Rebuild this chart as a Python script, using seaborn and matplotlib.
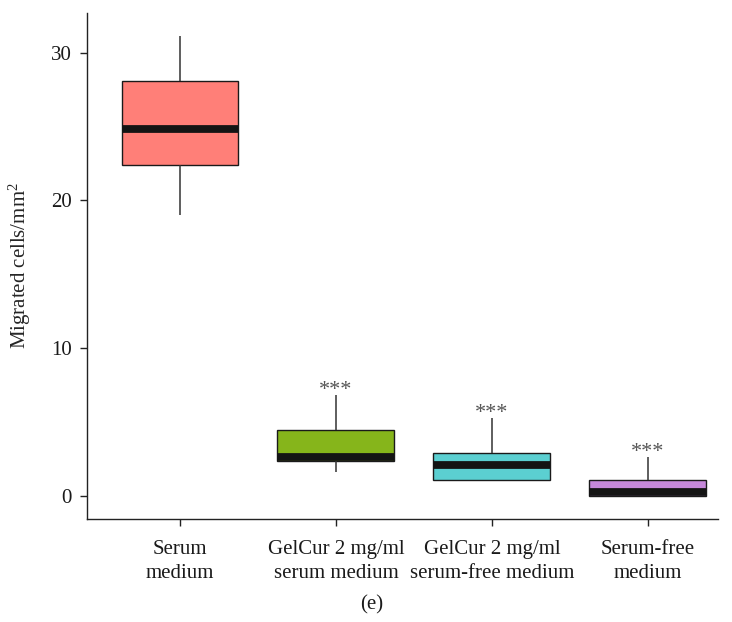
import numpy as np
import pandas as pd
import matplotlib
matplotlib.use("Agg")
import matplotlib.pyplot as plt
import seaborn as sns

# Groups and their five-number summaries (min, Q1, median, Q3, max)
groups = ["Serum\nmedium", "GelCur 2 mg/ml\nserum medium",
          "GelCur 2 mg/ml\nserum-free medium", "Serum-free\nmedium"]
serum_medium = [19.0, 22.4, 24.8, 28.1, 31.1]
gelcur_serum = [1.57, 2.35, 2.6, 4.45, 6.8]
gelcur_serum_free = [1.04, 1.04, 2.1, 2.9, 5.25]
serum_free = [0.0, 0.0, 0.25, 1.05, 2.6]
significance = ["", "***", "***", "***"]
colors = ["#FF7F78", "#86B51B", "#5BCFD1", "#C688DA"]
y_ticks = [0, 10, 20, 30]

values = [serum_medium, gelcur_serum, gelcur_serum_free, serum_free]
df = pd.DataFrame({
    "group": np.repeat(groups, [len(v) for v in values]),
    "cells": np.concatenate(values),
})

sns.set_theme(style="ticks")
plt.rcParams["font.family"] = ["Liberation Serif", "DejaVu Serif"]
plt.rcParams["mathtext.fontset"] = "custom"
plt.rcParams["mathtext.rm"] = "Liberation Serif"
plt.rcParams["mathtext.it"] = "Liberation Serif:italic"

fig = plt.figure(figsize=(7.32, 6.22), dpi=100)
ax = fig.add_axes([0.1189, 0.1656, 0.862, 0.8134])

sns.boxplot(
    data=df, x="group", y="cells", hue="group", order=groups,
    palette=colors, saturation=1, legend=False, whis=(0, 100), width=0.75,
    showcaps=False, showfliers=False, linecolor="#1a1a1a", linewidth=1.0,
    medianprops=dict(color="#141414", linewidth=5.6, solid_capstyle="butt"),
    whiskerprops=dict(color="#333333", linewidth=1.1),
    ax=ax,
)

for i, (vals, mark) in enumerate(zip(values, significance)):
    if mark:
        ax.annotate(mark, xy=(i, max(vals)), xytext=(0, 3.5),
                    textcoords="offset points", ha="center", va="center",
                    fontsize=16, color="#555555")

ax.set_xlim(-0.596, 3.45)
ax.set_ylim(-1.58, 32.68)
ax.set_yticks(y_ticks)
ax.set_xlabel("")
ax.set_ylabel("Migrated cells/mm$^2$", fontsize=15)
ax.yaxis.set_label_coords(-0.086, 0.5)

sns.despine(ax=ax)
for side in ("left", "bottom"):
    ax.spines[side].set_linewidth(1.0)
    ax.spines[side].set_color("#222222")
ax.tick_params(axis="both", length=5, width=1.0, color="#222222",
               labelsize=15, labelcolor="#1a1a1a")
ax.tick_params(axis="y", pad=6)
ax.tick_params(axis="x", pad=10)
for lab in ax.get_xticklabels():
    lab.set_linespacing(1.35)

fig.text(372 / 732, 1 - 605 / 622, "(e)", ha="center", va="center",
         fontsize=15, color="#1a1a1a")

fig.savefig("out.png", dpi=100)
